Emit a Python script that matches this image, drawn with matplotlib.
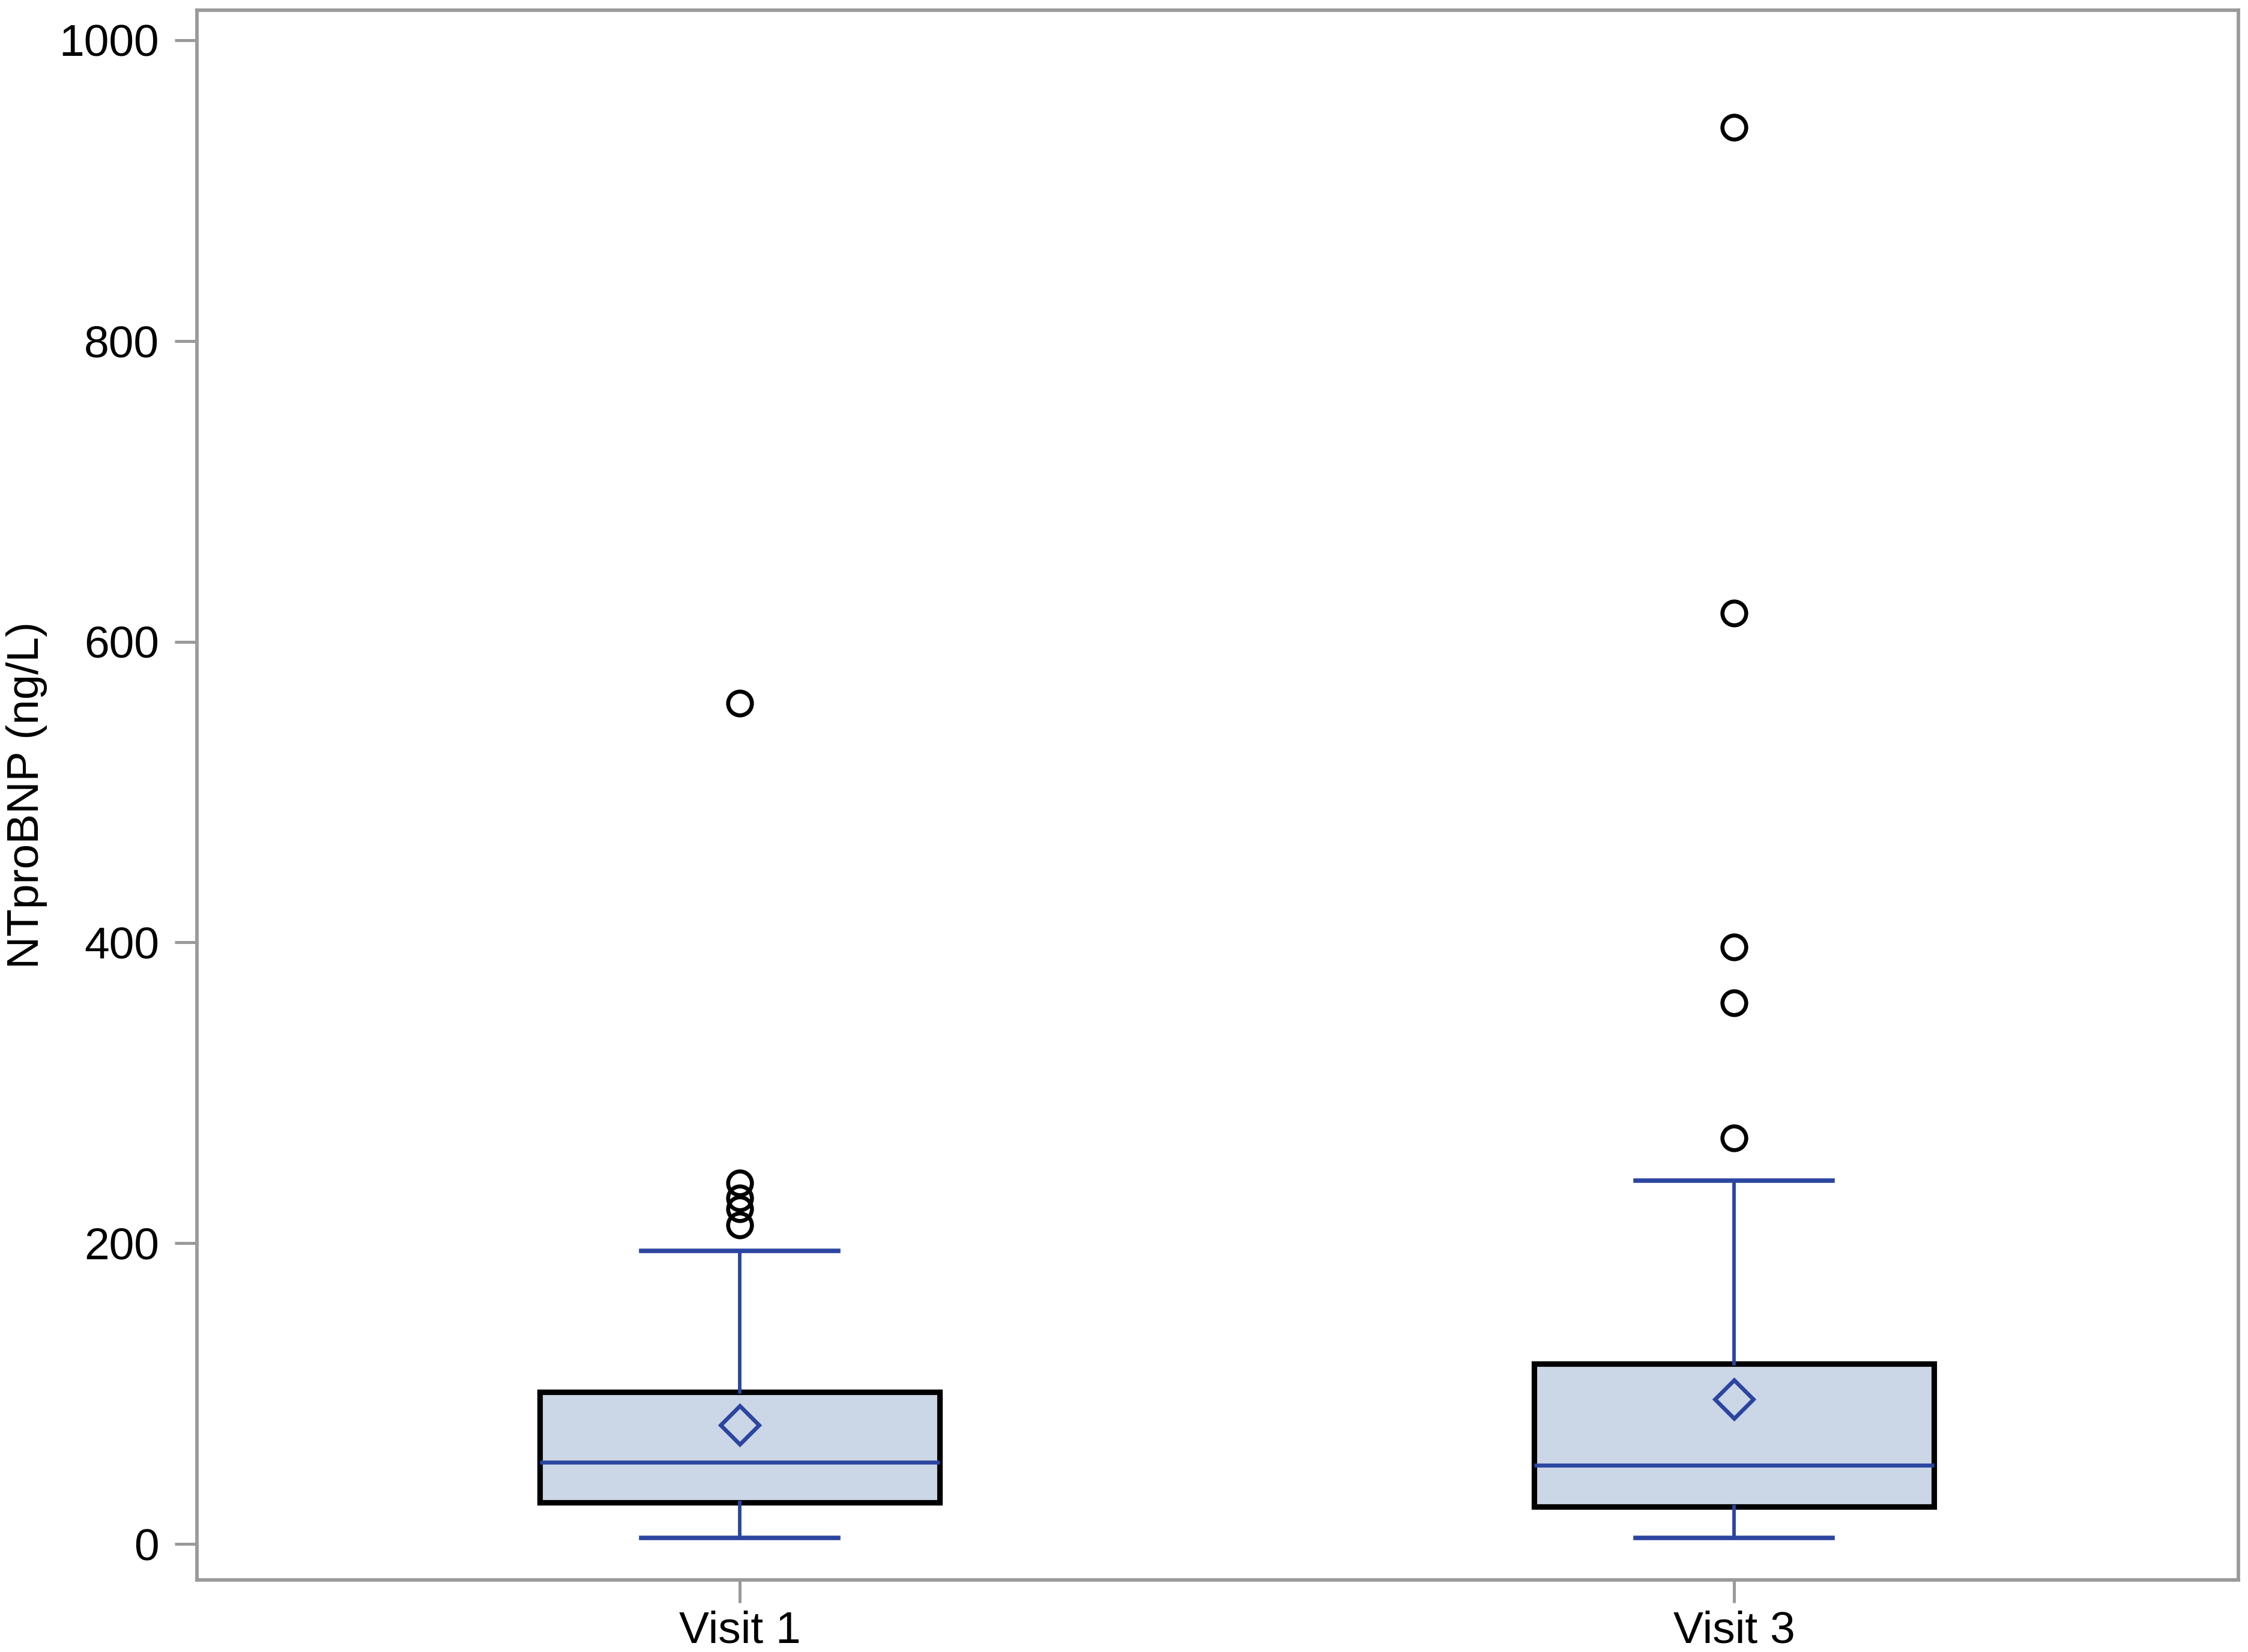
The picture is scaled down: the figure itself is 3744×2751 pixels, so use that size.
import numpy as np
import matplotlib
matplotlib.use('Agg')
import matplotlib.pyplot as plt

# Valores (NTproBNP em ng/L)
visitas = ['Visit 1', 'Visit 3']
q1 = [27.7, 24.8]
mediana = [54.4, 52.5]
q3 = [101, 120]
media = [79, 96.4]
whis_baixo = [4, 4]
whis_alto = [195, 241.5]
outliers = [[559, 240, 230, 223, 212],
            [942, 619, 397, 360, 270]]
y_ticks = [0, 200, 400, 600, 800, 1000]

plt.rcParams['font.family'] = ['Liberation Sans', 'DejaVu Sans']

azul = '#2b45a0'
cinza = '#9a9a9a'

stats = []
for i in range(len(visitas)):
    stats.append({'label': visitas[i], 'q1': q1[i], 'med': mediana[i], 'q3': q3[i],
                  'mean': media[i], 'whislo': whis_baixo[i], 'whishi': whis_alto[i],
                  'fliers': outliers[i]})

fig = plt.figure(figsize=(3745/300, 2751/300), dpi=300)
ax = fig.add_axes([0.0875, 0.0435, 0.908, 0.9504])

ax.bxp(stats, positions=[1, 2], widths=0.402, patch_artist=True, showmeans=True,
       boxprops=dict(facecolor='#cbd6e6', edgecolor='black', linewidth=2.2),
       medianprops=dict(color=azul, linewidth=1.6),
       whiskerprops=dict(color=azul, linewidth=1.4),
       capprops=dict(color=azul, linewidth=1.8),
       capwidths=0.198,
       meanprops=dict(marker='D', markerfacecolor='none', markeredgecolor=azul,
                      markeredgewidth=1.6, markersize=11),
       flierprops=dict(marker='o', markerfacecolor='none', markeredgecolor='black',
                       markeredgewidth=1.6, markersize=9.5))

ax.set_xlim(0.454, 2.507)
ax.set_ylim(-24, 1020)
ax.set_yticks(y_ticks)
ax.set_xticks([1, 2])
ax.set_xticklabels(visitas)
ax.set_ylabel('NTproBNP (ng/L)', fontsize=18)
ax.yaxis.set_label_coords(-0.073, 0.5)
ax.tick_params(axis='both', labelsize=18, color=cinza, width=1.2, length=9)
ax.tick_params(axis='x', pad=3)
ax.tick_params(axis='y', pad=6)

for s in ax.spines.values():
    s.set_color(cinza)
    s.set_linewidth(1.4)

fig.savefig('out.png', dpi=300, facecolor='white')
